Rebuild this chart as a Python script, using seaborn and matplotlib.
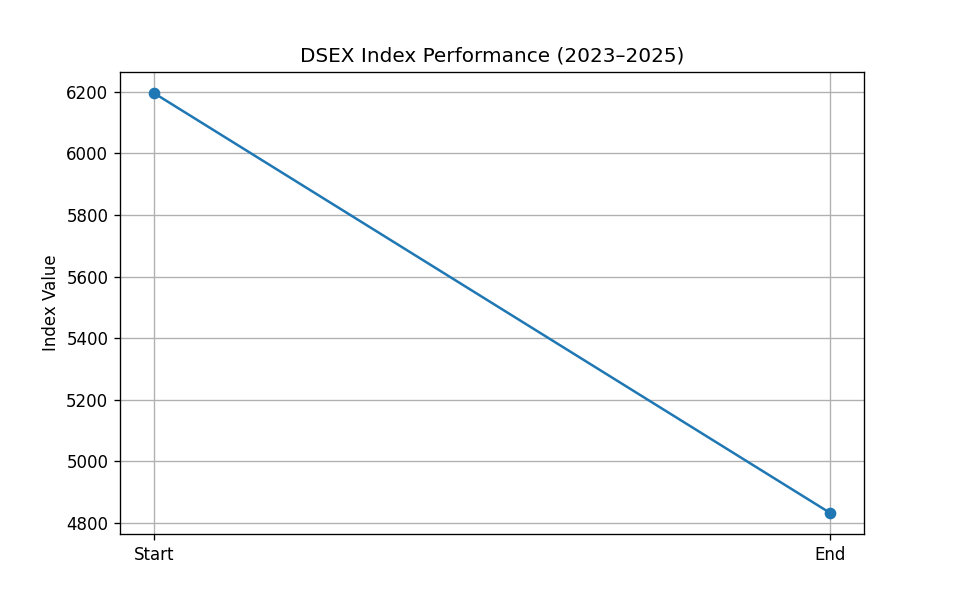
import matplotlib
matplotlib.use("Agg")
import matplotlib.pyplot as plt
import seaborn as sns
import pandas as pd

labels = ["Start", "End"]
values = [6196, 4832]

df = pd.DataFrame({"Period": labels, "Index Value": values})

plt.rcParams['font.family'] = ['DejaVu Sans']
fig, ax = plt.subplots(figsize=(8, 5), dpi=120)
sns.lineplot(data=df, x="Period", y="Index Value", marker="o", markersize=7,
             markeredgewidth=0, color="#1f77b4", linewidth=1.5, ax=ax, sort=False)
ax.set_title("DSEX Index Performance (2023\u20132025)")
ax.set_xlabel("")
ax.set_ylabel("Index Value")
ax.grid(True)
fig.savefig("out.png", dpi=120)
